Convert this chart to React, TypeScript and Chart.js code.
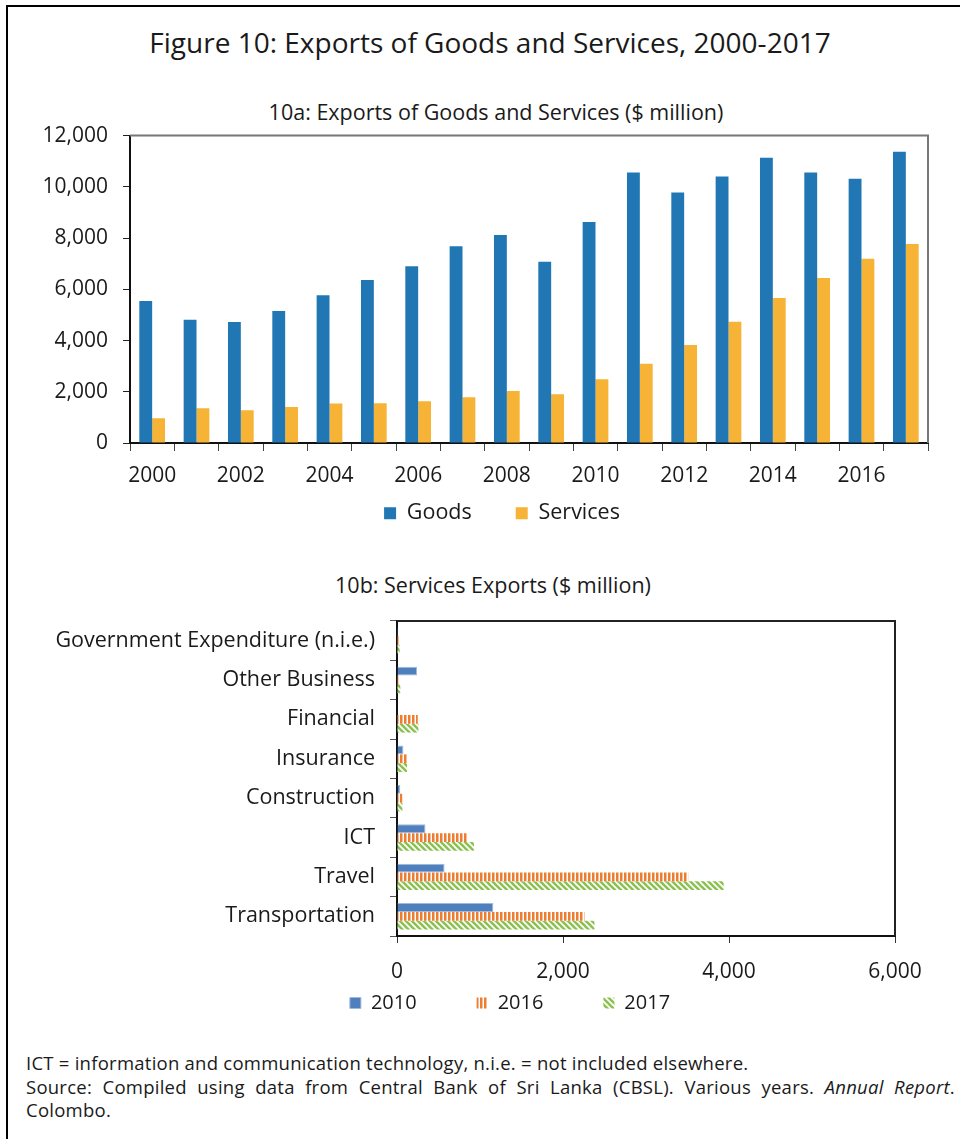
import React, { useEffect, useRef } from "react";
import { Chart, registerables } from "chart.js";
Chart.register(...registerables);

const YEARS = ["2000","2001","2002","2003","2004","2005","2006","2007","2008","2009","2010","2011","2012","2013","2014","2015","2016","2017"];
const GOODS = [5540, 4810, 4720, 5150, 5770, 6360, 6900, 7680, 8120, 7080, 8630, 10560, 9780, 10400, 11140, 10560, 10320, 11370];
const SERVICES = [970, 1360, 1280, 1410, 1540, 1550, 1630, 1790, 2030, 1900, 2490, 3090, 3830, 4730, 5660, 6440, 7190, 7770];

const SECTORS = ["Government Expenditure (n.i.e.)", "Other Business", "Financial", "Insurance", "Construction", "ICT", "Travel", "Transportation"];
const S2010 = [16, 242, 0, 77, 40, 343, 573, 1161];
const S2016 = [24, 20, 250, 121, 65, 851, 3508, 2258];
const S2017 = [32, 40, 258, 121, 65, 927, 3935, 2379];

const FONT = "'Open Sans', Lato, sans-serif";
const INK = "#1a1a1a";

const fmt = (v: any) => Number(v).toLocaleString("en-US");

const framePlugin = (color: string, width: number) => ({
  id: "frame",
  afterDraw(chart: any) {
    const { ctx, chartArea: a } = chart;
    ctx.save();
    ctx.strokeStyle = color;
    ctx.lineWidth = width;
    ctx.beginPath();
    ctx.moveTo(a.left, a.top);
    ctx.lineTo(a.right, a.top);
    ctx.lineTo(a.right, a.bottom);
    ctx.stroke();
    ctx.restore();
  },
});

// let tick labels draw outside the (narrowed) scale boxes
const unclipPlugin = {
  id: "unclip",
  beforeDraw(chart: any) {
    const { x, y } = chart.scales;
    if (y) y.left = 0;
    if (x) x.bottom = chart.height;
  },
};

function makeStripes(): CanvasPattern | string {
  const c = document.createElement("canvas");
  c.width = 4; c.height = 4;
  const g = c.getContext("2d");
  if (!g) return "#ed7d31";
  g.fillStyle = "#ffffff";
  g.fillRect(0, 0, 4, 4);
  g.fillStyle = "#ed7d31";
  g.fillRect(0, 0, 2.5, 4);
  return g.createPattern(c, "repeat") || "#ed7d31";
}

function makeHatch(): CanvasPattern | string {
  const S = 6;
  const c = document.createElement("canvas");
  c.width = S; c.height = S;
  const g = c.getContext("2d");
  if (!g) return "#8cc152";
  g.fillStyle = "#ffffff";
  g.fillRect(0, 0, S, S);
  g.strokeStyle = "#8cc152";
  g.lineWidth = 2.6;
  for (let k = -1; k <= 1; k++) {
    g.beginPath();
    g.moveTo(k * S - 1, -1);
    g.lineTo(k * S + S + 1, S + 1);
    g.stroke();
  }
  return g.createPattern(c, "repeat") || "#8cc152";
}

function TopChart() {
  const ref = useRef<HTMLCanvasElement>(null);
  useEffect(() => {
    if (!ref.current) return;
    const tickFont = { family: FONT, size: 21 };
    const chart = new Chart(ref.current, {
      type: "bar",
      data: {
        labels: YEARS,
        datasets: [
          { label: "Goods", data: GOODS, backgroundColor: "#2077b4", categoryPercentage: 0.58, barPercentage: 1 },
          { label: "Services", data: SERVICES, backgroundColor: "#f6b335", categoryPercentage: 0.58, barPercentage: 1 },
        ],
      },
      options: {
        animation: false,
        responsive: false,
        maintainAspectRatio: false,
        devicePixelRatio: 1,
        layout: { padding: { top: 0, left: 76, right: 32, bottom: 0 } },
        plugins: {
          legend: {
            position: "bottom",
            labels: { boxWidth: 12, boxHeight: 12, padding: 44, color: INK, font: { family: FONT, size: 21.5 } },
          },
          tooltip: { enabled: false },
        },
        scales: {
          x: {
            offset: true,
            grid: { offset: true, drawOnChartArea: false, drawTicks: true, tickLength: 8, color: "#444" },
            border: { color: "#111", width: 2 },
            ticks: {
              autoSkip: false, maxRotation: 0, minRotation: 0, padding: 12, color: INK, font: tickFont,
              callback: (_v: any, i: number) => (i % 2 === 0 ? YEARS[i] : ""),
            },
            afterFit: (s: any) => { s.height = 15.5; },
          },
          y: {
            min: 0, max: 12000,
            ticks: { stepSize: 2000, padding: 15, color: INK, font: tickFont, callback: fmt },
            grid: { drawOnChartArea: false, tickLength: 7, color: "#222" },
            border: { color: "#111", width: 2 },
            afterFit: (s: any) => { s.width = 54; },
          },
        },
      },
      plugins: [unclipPlugin, framePlugin("#777", 2)],
    } as any);
    return () => chart.destroy();
  }, []);
  return <canvas ref={ref} width={960} height={426} style={{ position: "absolute", left: 0, top: 108 }} />;
}

function BottomChart() {
  const ref = useRef<HTMLCanvasElement>(null);
  useEffect(() => {
    if (!ref.current) return;
    const stripes = makeStripes();
    const hatch = makeHatch();
    const chart = new Chart(ref.current, {
      type: "bar",
      data: {
        labels: SECTORS,
        datasets: [
          { label: "2010", data: S2010, backgroundColor: "#4f7fbd", borderColor: "#9fb9dd", borderWidth: 1, categoryPercentage: 0.67, barPercentage: 1 },
          { label: "2016", data: S2016, backgroundColor: stripes, borderWidth: 0, categoryPercentage: 0.67, barPercentage: 1 },
          { label: "2017", data: S2017, backgroundColor: hatch, borderWidth: 0, categoryPercentage: 0.67, barPercentage: 1 },
        ],
      },
      options: {
        indexAxis: "y",
        animation: false,
        responsive: false,
        maintainAspectRatio: false,
        devicePixelRatio: 1,
        layout: { padding: { top: 0, left: 125, right: 65, bottom: 0 } },
        plugins: {
          legend: {
            position: "bottom",
            labels: { boxWidth: 11, boxHeight: 11, padding: 60, color: INK, font: { family: FONT, size: 20 } },
          },
          tooltip: { enabled: false },
        },
        scales: {
          x: {
            min: 0, max: 6000,
            ticks: { stepSize: 2000, padding: 16, color: INK, font: { family: FONT, size: 21 }, callback: fmt },
            grid: { drawOnChartArea: false, tickLength: 7, color: "#333" },
            border: { color: "#111", width: 2 },
            afterFit: (s: any) => { s.height = -3; },
          },
          y: {
            ticks: { padding: 15, color: INK, font: { family: FONT, size: 21.5 }, autoSkip: false },
            grid: { offset: true, drawOnChartArea: false, tickLength: 7, color: "#555" },
            border: { color: "#111", width: 2 },
            afterFit: (s: any) => { s.width = 272; },
          },
        },
      },
      plugins: [unclipPlugin, framePlugin("#222", 2)],
    } as any);
    return () => chart.destroy();
  }, []);
  return <canvas ref={ref} width={960} height={433} style={{ position: "absolute", left: 0, top: 593 }} />;
}

export default function App() {
  const txt: React.CSSProperties = { position: "absolute", fontFamily: FONT, color: INK, whiteSpace: "nowrap" };
  return (
    <div style={{ position: "absolute", left: 0, top: 0, width: 960, height: 1139, overflow: "hidden", background: "#fff" }}>
      <div style={{ position: "absolute", left: 6, top: 5, width: 1000, height: 1300, borderLeft: "2px solid #000", borderTop: "2px solid #000" }} />
      <div style={{ ...txt, left: 0, width: 980, top: 23, lineHeight: "38px", fontSize: 28, textAlign: "center" }}>
        Figure 10: Exports of Goods and Services, 2000-2017
      </div>
      <div style={{ ...txt, left: 0, width: 992, top: 97, lineHeight: "29px", fontSize: 21.5, textAlign: "center" }}>
        10a: Exports of Goods and Services ($ million)
      </div>
      <TopChart />
      <div style={{ ...txt, left: 0, width: 986, top: 570, lineHeight: "29px", fontSize: 21.5, textAlign: "center" }}>
        10b: Services Exports ($ million)
      </div>
      <BottomChart />
      <div style={{ ...txt, left: 26, top: 1051, lineHeight: "23.5px", fontSize: 18.5, letterSpacing: "0.25px" }}>
        ICT = information and communication technology, n.i.e. = not included elsewhere.
      </div>
      <div style={{ ...txt, whiteSpace: "normal", left: 26, top: 1074.5, width: 929, lineHeight: "23.5px", fontSize: 18.5, letterSpacing: "0.25px", textAlign: "justify", textAlignLast: "justify" } as any}>
        Source: Compiled using data from Central Bank of Sri Lanka (CBSL). Various years. <i>Annual Report</i>.
      </div>
      <div style={{ ...txt, left: 26, top: 1098, lineHeight: "23.5px", fontSize: 18.5, letterSpacing: "0.25px" }}>
        Colombo.
      </div>
    </div>
  );
}
